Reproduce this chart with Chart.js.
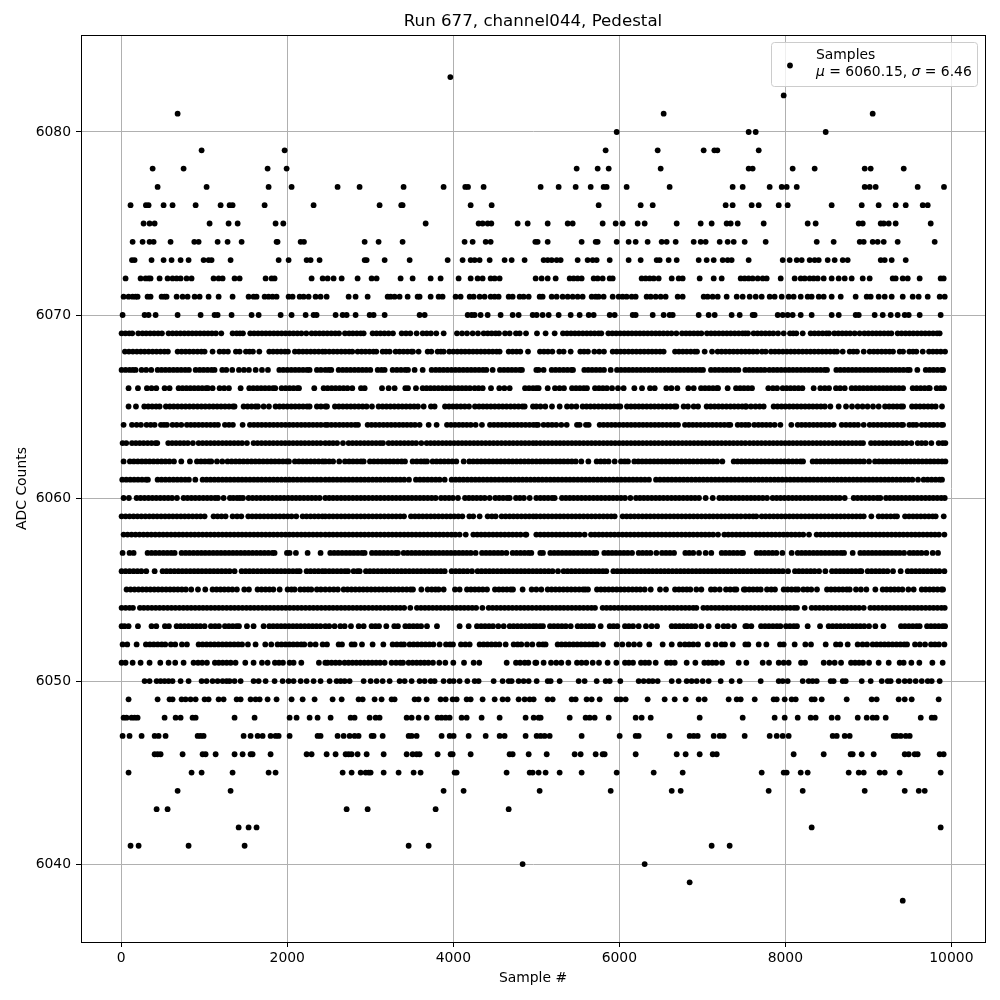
<!DOCTYPE html>
<html>
<head>
<meta charset="utf-8">
<title>Run 677, channel044, Pedestal</title>
<script src="https://cdn.jsdelivr.net/npm/chart.js@4"></script>
<style>
html, body { margin: 0; padding: 0; background: #fff; }
canvas { display: block; }
</style>
</head>
<body>
<canvas id="chart" width="1000" height="1000"></canvas>
<script>
const xTicks = [0, 2000, 4000, 6000, 8000, 10000];
const yTicks = [6040, 6050, 6060, 6070, 6080];

// sample numbers, one list per ADC level
const s6083 = [3964];
const s6082 = [7980];
const s6081 = [679, 6534, 9052];
const s6080 = [5968, 7558, 7643, 8486];
const s6079 = [968, 1968, 5835, 6462, 7016, 7145, 7181, 7679];
const s6078 = [378, 751, 1763, 1992, 5486, 5739, 5872, 6498, 7558, 7606, 8088, 8353, 8956, 9028, 9426];
const s6077 = [438, 1028, 1775, 2052, 2606, 2871, 3401, 3883, 4144, 4177, 4365, 5052, 5269, 5474, 5655, 5811, 5847, 6088, 6606, 7365, 7486, 7811, 7956, 8016, 8137, 8956, 9016, 9088, 9594, 9911];
const s6076 = [112, 297, 329, 510, 618, 896, 1197, 1305, 1341, 1727, 2317, 3112, 3373, 3389, 4209, 4462, 5751, 6257, 6402, 7281, 7365, 7594, 7679, 7920, 8028, 8558, 8920, 9124, 9329, 9450, 9655, 9715];
const s6075 = [269, 341, 402, 1064, 1293, 1402, 1859, 1952, 3667, 4305, 4353, 4414, 4458, 4775, 4896, 5137, 5378, 5438, 5799, 5956, 6040, 6221, 6305, 6691, 6980, 7112, 7293, 7341, 7426, 7739, 8269, 8365, 8884, 8932, 9149, 9185, 9245, 9329, 9751];
const s6074 = [137, 257, 341, 390, 594, 880, 932, 1161, 1281, 1450, 1871, 1883, 2161, 2201, 2932, 3100, 3389, 4136, 4233, 4390, 4450, 4988, 5016, 5137, 5546, 5715, 5739, 5968, 6112, 6197, 6341, 6510, 6570, 6679, 6896, 6980, 7040, 7209, 7305, 7378, 7510, 7763, 8378, 8582, 8896, 8944, 9052, 9112, 9185, 9353, 9799];
const s6073 = [129, 161, 365, 510, 606, 715, 811, 992, 1052, 1088, 1317, 1896, 2016, 2233, 2281, 2389, 2932, 2956, 3173, 3474, 3932, 4112, 4209, 4257, 4317, 4438, 4618, 4703, 4859, 5088, 5137, 5185, 5245, 5293, 5498, 5618, 5679, 5727, 5884, 6112, 6257, 6450, 6486, 6594, 6691, 6956, 7052, 7137, 7245, 7305, 7353, 7558, 7968, 8052, 8137, 8197, 8293, 8353, 8402, 8510, 8594, 8691, 8751, 9149, 9197, 9281, 9450];
const s6072 = [52, 233, 293, 329, 353, 462, 558, 618, 667, 715, 787, 847, 1112, 1173, 1221, 1365, 1426, 1739, 1811, 1847, 2293, 2426, 2486, 2558, 2655, 2847, 3016, 3076, 3365, 3510, 3727, 3847, 4064, 4209, 4293, 4353, 4450, 4498, 4558, 4992, 5064, 5137, 5233, 5402, 5450, 5498, 5546, 5691, 5739, 5799, 5884, 5920, 6269, 6317, 6366, 6414, 6474, 6631, 6715, 6763, 6968, 7137, 7233, 7462, 7510, 7558, 7606, 7667, 7727, 7775, 7944, 8112, 8185, 8233, 8293, 8341, 8390, 8462, 8558, 8642, 8715, 8799, 8932, 9016, 9293, 9329, 9414, 9474, 9618, 9871, 9907];
const s6071 = [28, 88, 137, 173, 197, 317, 353, 486, 522, 546, 667, 739, 799, 884, 944, 1052, 1173, 1341, 1534, 1594, 1630, 1727, 1775, 1823, 1871, 2016, 2064, 2149, 2197, 2257, 2341, 2401, 2474, 2739, 2823, 2968, 3209, 3245, 3293, 3353, 3450, 3570, 3594, 3727, 3823, 3871, 4028, 4088, 4197, 4245, 4317, 4377, 4450, 4498, 4546, 4667, 4715, 4799, 4847, 4908, 5040, 5076, 5185, 5245, 5317, 5378, 5438, 5498, 5558, 5667, 5715, 5751, 5811, 5920, 5992, 6040, 6088, 6149, 6197, 6329, 6378, 6438, 6498, 6558, 6703, 6763, 7016, 7064, 7124, 7185, 7293, 7414, 7486, 7570, 7643, 7715, 7811, 7871, 7956, 8040, 8100, 8185, 8269, 8317, 8402, 8462, 8558, 8667, 8847, 8980, 9028, 9124, 9197, 9281, 9414, 9534, 9606, 9715, 9859, 9920];
const s6070 = [16, 281, 329, 414, 679, 956, 1124, 1161, 1329, 1570, 1655, 1920, 2052, 2221, 2317, 2353, 2582, 2667, 2715, 2823, 2992, 3040, 3173, 3594, 3655, 4173, 4221, 4257, 4329, 4414, 4570, 4715, 4787, 4956, 5004, 5076, 5149, 5269, 5414, 5522, 5631, 5691, 5884, 5944, 6161, 6197, 6402, 6534, 6606, 6643, 6956, 7076, 7149, 7353, 7450, 7606, 7630, 7908, 7968, 8028, 8088, 8185, 8317, 8558, 8643, 8847, 8884, 9076, 9173, 9269, 9353, 9438, 9486, 9618, 9871];
const s6069 = [4, 50, 96, 132, 205, 255, 300, 348, 396, 444, 490, 570, 618, 665, 712, 760, 808, 855, 902, 950, 998, 1045, 1092, 1140, 1205, 1341, 1390, 1430, 1466, 1554, 1600, 1648, 1695, 1742, 1790, 1838, 1885, 1932, 1980, 2028, 2075, 2122, 2170, 2229, 2293, 2340, 2388, 2435, 2482, 2530, 2578, 2623, 2695, 2745, 2790, 2838, 2885, 2920, 3028, 3075, 3122, 3170, 3220, 3273, 3378, 3430, 3482, 3558, 3631, 3680, 3730, 3795, 3884, 4044, 4105, 4165, 4233, 4297, 4366, 4415, 4462, 4510, 4550, 4623, 4679, 4755, 4800, 4876, 5008, 5112, 5221, 5321, 5370, 5418, 5465, 5512, 5560, 5608, 5655, 5702, 5750, 5783, 5868, 5915, 5962, 6010, 6058, 6105, 6152, 6200, 6248, 6295, 6342, 6390, 6438, 6485, 6532, 6580, 6628, 6687, 6755, 6803, 6850, 6898, 6945, 6988, 7056, 7105, 7152, 7200, 7248, 7295, 7342, 7390, 7438, 7485, 7518, 7550, 7618, 7665, 7712, 7760, 7808, 7855, 7912, 7980, 8056, 8095, 8132, 8209, 8305, 8352, 8400, 8448, 8495, 8526, 8590, 8638, 8685, 8732, 8780, 8835, 8895, 8952, 9000, 9048, 9095, 9142, 9190, 9238, 9277, 9353, 9400, 9448, 9495, 9542, 9590, 9638, 9685, 9732, 9780, 9828, 9859];
const s6068 = [44, 92, 140, 188, 235, 282, 330, 378, 425, 472, 520, 562, 679, 727, 775, 822, 870, 918, 965, 1004, 1100, 1185, 1235, 1285, 1381, 1426, 1502, 1545, 1586, 1663, 1783, 1830, 1878, 1925, 1972, 2008, 2092, 2140, 2188, 2235, 2282, 2330, 2378, 2425, 2458, 2506, 2555, 2602, 2650, 2698, 2745, 2783, 2848, 2895, 2942, 2990, 3038, 3072, 3149, 3190, 3233, 3305, 3352, 3400, 3448, 3495, 3514, 3582, 3691, 3735, 3811, 3850, 3884, 3952, 4000, 4048, 4095, 4142, 4190, 4238, 4285, 4332, 4380, 4428, 4475, 4522, 4558, 4667, 4715, 4762, 4807, 4900, 5044, 5092, 5140, 5193, 5277, 5329, 5414, 5530, 5575, 5622, 5699, 5758, 5815, 5920, 5968, 6015, 6062, 6110, 6158, 6205, 6252, 6300, 6348, 6395, 6442, 6490, 6534, 6671, 6718, 6765, 6812, 6860, 6908, 6936, 7028, 7117, 7185, 7232, 7280, 7328, 7375, 7422, 7470, 7518, 7565, 7612, 7660, 7719, 7763, 7827, 7875, 7922, 7970, 8018, 8065, 8112, 8160, 8208, 8255, 8302, 8350, 8398, 8445, 8492, 8540, 8588, 8622, 8691, 8775, 8820, 8863, 8944, 9016, 9065, 9112, 9160, 9208, 9255, 9297, 9377, 9418, 9494, 9538, 9578, 9655, 9731, 9778, 9825, 9872, 9924];
const s6067 = [4, 52, 100, 140, 173, 245, 300, 361, 438, 485, 532, 580, 628, 675, 722, 770, 815, 896, 945, 992, 1040, 1088, 1124, 1217, 1265, 1337, 1418, 1478, 1538, 1619, 1695, 1767, 1904, 1952, 2000, 2048, 2095, 2142, 2190, 2238, 2269, 2357, 2405, 2458, 2500, 2530, 2619, 2668, 2715, 2762, 2810, 2858, 2905, 2952, 3000, 3089, 3135, 3173, 3269, 3320, 3370, 3420, 3454, 3534, 3631, 3739, 3788, 3835, 3882, 3930, 3978, 4025, 4072, 4120, 4168, 4215, 4262, 4310, 4358, 4398, 4474, 4562, 4610, 4658, 4705, 4752, 4800, 4827, 5000, 5028, 5088, 5185, 5232, 5280, 5328, 5375, 5422, 5442, 5578, 5625, 5672, 5720, 5768, 5815, 5896, 5972, 6020, 6068, 6115, 6162, 6210, 6258, 6305, 6352, 6400, 6448, 6495, 6542, 6590, 6638, 6685, 6732, 6780, 6828, 6875, 6922, 6970, 7008, 7104, 7152, 7200, 7248, 7295, 7342, 7390, 7434, 7518, 7565, 7612, 7660, 7705, 7751, 7807, 7855, 7902, 7950, 7998, 8045, 8092, 8140, 8188, 8235, 8282, 8330, 8378, 8425, 8472, 8502, 8614, 8662, 8710, 8758, 8805, 8852, 8900, 8948, 8995, 9042, 9090, 9138, 9185, 9232, 9280, 9328, 9375, 9422, 9470, 9498, 9590, 9691, 9738, 9785, 9832, 9880, 9900];
const s6066 = [88, 201, 309, 365, 422, 522, 582, 691, 738, 785, 832, 880, 928, 975, 1022, 1044, 1100, 1185, 1240, 1297, 1438, 1542, 1590, 1638, 1685, 1732, 1780, 1828, 1855, 1932, 1980, 2028, 2075, 2122, 2141, 2325, 2438, 2486, 2535, 2582, 2630, 2678, 2725, 2783, 2888, 2932, 3141, 3221, 3293, 3422, 3454, 3550, 3631, 3678, 3725, 3772, 3820, 3868, 3915, 3962, 4010, 4058, 4105, 4152, 4200, 4257, 4305, 4354, 4454, 4554, 4615, 4679, 4864, 4912, 4960, 5000, 5028, 5137, 5225, 5280, 5333, 5430, 5478, 5525, 5572, 5610, 5707, 5755, 5802, 5850, 5912, 5984, 6052, 6181, 6273, 6370, 6426, 6566, 6627, 6699, 6831, 6896, 6984, 7032, 7080, 7128, 7175, 7189, 7305, 7406, 7455, 7502, 7550, 7598, 7795, 7850, 7900, 7968, 8015, 8062, 8110, 8158, 8205, 8341, 8422, 8475, 8526, 8610, 8660, 8715, 8799, 8846, 8893, 8940, 8988, 9035, 9082, 9130, 9178, 9225, 9272, 9320, 9368, 9418, 9534, 9582, 9630, 9678, 9725, 9739, 9823, 9870, 9912];
const s6065 = [88, 177, 277, 325, 372, 420, 462, 538, 585, 632, 680, 728, 775, 822, 870, 918, 965, 1012, 1060, 1108, 1155, 1202, 1250, 1298, 1345, 1365, 1474, 1522, 1570, 1618, 1647, 1715, 1779, 1859, 1906, 1953, 2000, 2048, 2095, 2142, 2190, 2238, 2269, 2357, 2405, 2458, 2478, 2574, 2622, 2670, 2718, 2765, 2812, 2860, 2908, 2955, 3020, 3100, 3148, 3195, 3242, 3290, 3338, 3385, 3432, 3480, 3528, 3574, 3643, 3731, 3775, 3900, 3948, 3995, 4042, 4090, 4138, 4189, 4261, 4310, 4358, 4405, 4452, 4500, 4548, 4595, 4642, 4690, 4738, 4785, 4832, 4860, 4960, 5000, 5050, 5108, 5189, 5281, 5370, 5425, 5482, 5558, 5605, 5652, 5700, 5748, 5795, 5842, 5890, 5938, 5985, 6012, 6092, 6140, 6188, 6235, 6282, 6330, 6378, 6425, 6472, 6520, 6568, 6615, 6662, 6687, 6775, 6827, 6896, 6948, 7052, 7100, 7148, 7195, 7242, 7290, 7338, 7385, 7432, 7480, 7518, 7530, 7586, 7640, 7690, 7739, 7859, 7906, 7953, 8000, 8048, 8095, 8142, 8190, 8238, 8285, 8332, 8380, 8428, 8475, 8542, 8642, 8731, 8803, 8871, 8930, 8990, 9056, 9124, 9201, 9250, 9298, 9345, 9392, 9418, 9526, 9574, 9622, 9670, 9718, 9765, 9811, 9887];
const s6064 = [28, 129, 185, 237, 305, 355, 402, 478, 515, 550, 618, 668, 723, 791, 838, 885, 932, 980, 1028, 1075, 1122, 1165, 1249, 1298, 1345, 1462, 1550, 1598, 1645, 1692, 1740, 1788, 1835, 1882, 1930, 1978, 2025, 2072, 2120, 2168, 2215, 2262, 2310, 2358, 2405, 2458, 2486, 2532, 2580, 2628, 2675, 2722, 2770, 2818, 2852, 2968, 3015, 3062, 3110, 3158, 3205, 3252, 3300, 3348, 3395, 3442, 3490, 3538, 3594, 3703, 3799, 3924, 3972, 4020, 4068, 4115, 4162, 4210, 4269, 4345, 4442, 4490, 4538, 4585, 4632, 4680, 4728, 4775, 4822, 4870, 4918, 4965, 5000, 5020, 5088, 5140, 5190, 5240, 5301, 5366, 5490, 5522, 5598, 5631, 5763, 5810, 5858, 5905, 5952, 6000, 6048, 6095, 6142, 6190, 6238, 6285, 6332, 6380, 6428, 6475, 6522, 6570, 6618, 6665, 6707, 6791, 6838, 6885, 6932, 6980, 7028, 7075, 7122, 7170, 7218, 7265, 7312, 7337, 7426, 7472, 7518, 7558, 7626, 7675, 7722, 7770, 7818, 7871, 7940, 8072, 8149, 8196, 8243, 8290, 8338, 8385, 8432, 8480, 8528, 8582, 8679, 8730, 8780, 8828, 8875, 8944, 9016, 9064, 9112, 9160, 9208, 9255, 9302, 9350, 9398, 9418, 9494, 9538, 9578, 9643, 9690, 9738, 9785, 9832, 9880, 9900];
const s6063 = [16, 60, 129, 176, 223, 270, 318, 365, 412, 434, 566, 613, 660, 708, 755, 802, 863, 932, 980, 1028, 1075, 1122, 1170, 1218, 1265, 1312, 1360, 1408, 1455, 1514, 1594, 1642, 1690, 1738, 1785, 1832, 1880, 1928, 1975, 2022, 2070, 2118, 2165, 2212, 2260, 2308, 2355, 2402, 2458, 2505, 2552, 2600, 2671, 2739, 2786, 2833, 2880, 2928, 2975, 3022, 3070, 3118, 3153, 3221, 3268, 3315, 3362, 3410, 3458, 3505, 3552, 3615, 3679, 3726, 3773, 3820, 3868, 3915, 3962, 4010, 4058, 4105, 4152, 4200, 4248, 4295, 4342, 4390, 4438, 4485, 4532, 4580, 4628, 4675, 4722, 4770, 4818, 4865, 4912, 4960, 5000, 5048, 5095, 5142, 5190, 5238, 5285, 5332, 5380, 5428, 5475, 5522, 5570, 5618, 5665, 5712, 5760, 5808, 5855, 5902, 5950, 5998, 6045, 6092, 6140, 6188, 6235, 6282, 6330, 6378, 6425, 6472, 6520, 6568, 6615, 6662, 6710, 6758, 6805, 6852, 6900, 6948, 6995, 7042, 7090, 7138, 7185, 7232, 7280, 7328, 7375, 7422, 7470, 7518, 7570, 7618, 7665, 7712, 7760, 7808, 7855, 7902, 7950, 7998, 8045, 8092, 8140, 8188, 8235, 8282, 8330, 8378, 8425, 8472, 8520, 8568, 8615, 8662, 8710, 8758, 8805, 8852, 8900, 8936, 9032, 9080, 9128, 9175, 9222, 9270, 9318, 9365, 9412, 9460, 9518, 9594, 9642, 9690, 9759, 9847, 9895, 9928];
const s6062 = [28, 104, 152, 200, 248, 295, 342, 390, 438, 485, 532, 580, 635, 723, 827, 912, 960, 1008, 1055, 1084, 1153, 1217, 1281, 1330, 1378, 1425, 1472, 1520, 1568, 1615, 1662, 1710, 1758, 1805, 1852, 1900, 1948, 1995, 2020, 2092, 2140, 2188, 2235, 2282, 2330, 2378, 2425, 2458, 2505, 2552, 2626, 2695, 2745, 2792, 2840, 2888, 2920, 2996, 3044, 3092, 3140, 3188, 3235, 3282, 3330, 3378, 3418, 3510, 3560, 3610, 3650, 3683, 3751, 3798, 3845, 3892, 3940, 3988, 4036, 4125, 4193, 4240, 4288, 4335, 4382, 4430, 4478, 4525, 4572, 4620, 4668, 4715, 4762, 4810, 4858, 4905, 4952, 5000, 5048, 5095, 5142, 5190, 5238, 5285, 5332, 5380, 5428, 5475, 5542, 5627, 5727, 5775, 5822, 5870, 5944, 6020, 6065, 6104, 6181, 6228, 6275, 6322, 6370, 6418, 6465, 6512, 6560, 6608, 6655, 6702, 6750, 6798, 6845, 6892, 6940, 6988, 7035, 7082, 7130, 7178, 7241, 7378, 7425, 7472, 7518, 7565, 7612, 7660, 7708, 7755, 7802, 7850, 7898, 7945, 7992, 8040, 8088, 8135, 8182, 8213, 8329, 8376, 8423, 8470, 8518, 8565, 8612, 8660, 8708, 8755, 8802, 8850, 8898, 8945, 9008, 9080, 9128, 9175, 9222, 9270, 9318, 9365, 9412, 9460, 9508, 9555, 9602, 9650, 9698, 9745, 9792, 9840, 9888, 9928];
const s6061 = [12, 60, 108, 155, 202, 250, 298, 321, 438, 485, 532, 580, 628, 675, 722, 770, 815, 892, 980, 1028, 1075, 1122, 1170, 1218, 1265, 1312, 1360, 1408, 1455, 1502, 1550, 1598, 1645, 1692, 1740, 1788, 1835, 1882, 1930, 1978, 2025, 2072, 2120, 2168, 2215, 2262, 2310, 2358, 2405, 2458, 2505, 2552, 2600, 2648, 2695, 2742, 2790, 2838, 2885, 2932, 2980, 3028, 3075, 3122, 3170, 3218, 3265, 3312, 3360, 3408, 3466, 3550, 3598, 3645, 3692, 3740, 3788, 3835, 3896, 3980, 4028, 4075, 4122, 4170, 4218, 4265, 4312, 4360, 4408, 4455, 4502, 4550, 4598, 4645, 4692, 4740, 4788, 4835, 4882, 4930, 4978, 5025, 5072, 5120, 5168, 5215, 5262, 5310, 5358, 5405, 5452, 5500, 5548, 5595, 5642, 5690, 5738, 5785, 5832, 5880, 5928, 5975, 6022, 6070, 6118, 6165, 6212, 6260, 6308, 6357, 6442, 6490, 6538, 6585, 6632, 6680, 6728, 6775, 6822, 6870, 6918, 6965, 7012, 7060, 7108, 7155, 7202, 7250, 7298, 7345, 7392, 7440, 7488, 7535, 7582, 7630, 7678, 7725, 7772, 7820, 7868, 7915, 7962, 8010, 8058, 8105, 8152, 8200, 8248, 8295, 8342, 8390, 8438, 8485, 8532, 8580, 8628, 8675, 8722, 8770, 8818, 8865, 8912, 8960, 9008, 9055, 9102, 9150, 9198, 9245, 9292, 9340, 9388, 9435, 9482, 9530, 9598, 9666, 9714, 9762, 9810, 9858, 9887];
const s6060 = [28, 92, 185, 232, 280, 328, 375, 422, 470, 518, 565, 612, 671, 751, 798, 845, 892, 940, 988, 1035, 1082, 1130, 1165, 1233, 1309, 1350, 1395, 1430, 1466, 1534, 1582, 1630, 1678, 1725, 1772, 1820, 1868, 1915, 1962, 2010, 2058, 2105, 2152, 2200, 2248, 2295, 2342, 2390, 2458, 2505, 2552, 2600, 2648, 2695, 2742, 2790, 2838, 2885, 2932, 2980, 3028, 3075, 3122, 3170, 3218, 3265, 3312, 3360, 3408, 3455, 3502, 3550, 3598, 3645, 3692, 3740, 3787, 3852, 3900, 3948, 3995, 4056, 4141, 4188, 4235, 4282, 4330, 4378, 4438, 4506, 4553, 4600, 4648, 4679, 4755, 4802, 4850, 4920, 5000, 5048, 5095, 5142, 5190, 5221, 5309, 5356, 5403, 5450, 5498, 5545, 5592, 5640, 5688, 5735, 5782, 5830, 5878, 5925, 5972, 6020, 6068, 6133, 6201, 6248, 6295, 6342, 6390, 6438, 6485, 6532, 6580, 6628, 6675, 6722, 6770, 6818, 6865, 6912, 6960, 7040, 7125, 7205, 7252, 7300, 7348, 7395, 7442, 7490, 7538, 7585, 7632, 7680, 7728, 7779, 7847, 7895, 7942, 7990, 8038, 8085, 8132, 8180, 8228, 8275, 8322, 8370, 8418, 8465, 8512, 8560, 8608, 8655, 8715, 8823, 8870, 8918, 8965, 9012, 9060, 9108, 9144, 9213, 9260, 9308, 9355, 9402, 9450, 9498, 9545, 9592, 9640, 9688, 9735, 9782, 9830, 9878, 9920];
const s6059 = [4, 52, 100, 148, 195, 242, 290, 338, 385, 432, 480, 528, 575, 622, 670, 718, 765, 812, 860, 908, 955, 1004, 1112, 1160, 1208, 1257, 1341, 1395, 1446, 1530, 1578, 1625, 1672, 1720, 1768, 1815, 1862, 1910, 1958, 2005, 2052, 2108, 2185, 2232, 2280, 2328, 2375, 2422, 2458, 2505, 2552, 2600, 2648, 2695, 2742, 2790, 2838, 2885, 2932, 2980, 3028, 3075, 3122, 3170, 3218, 3265, 3312, 3360, 3406, 3490, 3538, 3585, 3632, 3680, 3728, 3775, 3822, 3870, 3918, 3965, 4012, 4060, 4109, 4193, 4240, 4317, 4414, 4465, 4510, 4582, 4630, 4678, 4725, 4772, 4820, 4868, 4915, 4962, 5000, 5048, 5095, 5142, 5190, 5238, 5285, 5332, 5380, 5428, 5475, 5522, 5570, 5618, 5665, 5712, 5760, 5808, 5855, 5902, 5944, 6040, 6088, 6135, 6182, 6230, 6278, 6325, 6372, 6420, 6468, 6515, 6562, 6610, 6658, 6705, 6752, 6800, 6848, 6895, 6942, 6990, 7038, 7085, 7132, 7180, 7228, 7275, 7322, 7370, 7418, 7465, 7518, 7565, 7612, 7650, 7715, 7762, 7810, 7858, 7905, 7952, 8000, 8048, 8095, 8142, 8190, 8238, 8285, 8332, 8380, 8428, 8475, 8522, 8570, 8618, 8665, 8712, 8760, 8808, 8855, 8902, 8944, 9036, 9124, 9172, 9220, 9268, 9315, 9345, 9442, 9490, 9538, 9585, 9632, 9680, 9728, 9775, 9811, 9908];
const s6058 = [28, 76, 124, 172, 220, 268, 315, 362, 410, 458, 505, 552, 600, 648, 695, 742, 790, 838, 885, 932, 980, 1028, 1075, 1122, 1170, 1218, 1265, 1312, 1360, 1408, 1455, 1502, 1550, 1598, 1645, 1692, 1740, 1788, 1835, 1882, 1930, 1978, 2025, 2072, 2120, 2168, 2215, 2262, 2310, 2358, 2405, 2458, 2505, 2552, 2600, 2648, 2695, 2742, 2790, 2838, 2885, 2932, 2980, 3028, 3075, 3122, 3170, 3218, 3265, 3312, 3360, 3408, 3455, 3502, 3550, 3598, 3645, 3692, 3740, 3788, 3835, 3882, 3930, 3978, 4025, 4076, 4150, 4241, 4288, 4335, 4382, 4430, 4478, 4525, 4572, 4620, 4668, 4715, 4762, 4810, 4868, 4880, 5000, 5048, 5095, 5142, 5190, 5238, 5285, 5332, 5380, 5428, 5475, 5522, 5582, 5659, 5706, 5753, 5800, 5848, 5895, 5942, 5990, 6038, 6085, 6132, 6180, 6228, 6275, 6322, 6370, 6418, 6465, 6512, 6560, 6608, 6655, 6702, 6750, 6798, 6845, 6892, 6940, 6988, 7035, 7082, 7130, 7189, 7265, 7312, 7360, 7408, 7455, 7502, 7550, 7598, 7645, 7692, 7740, 7788, 7835, 7882, 7930, 7978, 8025, 8072, 8120, 8168, 8215, 8285, 8377, 8425, 8472, 8520, 8568, 8615, 8662, 8710, 8758, 8805, 8852, 8900, 8948, 8995, 9042, 9090, 9138, 9185, 9232, 9280, 9328, 9375, 9422, 9470, 9518, 9565, 9612, 9660, 9708, 9755, 9802, 9850, 9916];
const s6057 = [16, 100, 149, 317, 365, 412, 460, 508, 555, 602, 643, 727, 775, 822, 870, 918, 965, 1012, 1060, 1108, 1155, 1202, 1250, 1298, 1345, 1392, 1440, 1488, 1535, 1582, 1630, 1678, 1725, 1772, 1820, 1847, 1996, 2028, 2104, 2245, 2401, 2518, 2565, 2612, 2660, 2708, 2755, 2802, 2850, 2898, 2932, 3020, 3068, 3115, 3162, 3210, 3258, 3305, 3333, 3402, 3450, 3498, 3545, 3592, 3640, 3688, 3735, 3782, 3830, 3878, 3925, 3972, 4020, 4068, 4115, 4162, 4210, 4269, 4346, 4394, 4442, 4490, 4538, 4585, 4639, 4715, 4762, 4810, 4858, 4905, 4940, 5048, 5080, 5169, 5216, 5263, 5310, 5358, 5405, 5452, 5500, 5548, 5595, 5642, 5690, 5723, 5819, 5866, 5913, 5960, 6008, 6055, 6102, 6153, 6233, 6280, 6328, 6375, 6446, 6514, 6562, 6610, 6659, 6795, 6842, 6890, 6960, 7040, 7108, 7233, 7280, 7328, 7375, 7422, 7470, 7490, 7655, 7702, 7750, 7798, 7845, 7892, 7964, 8076, 8149, 8196, 8243, 8290, 8338, 8385, 8432, 8480, 8528, 8575, 8622, 8670, 8707, 8811, 8903, 8950, 8998, 9045, 9092, 9140, 9188, 9235, 9282, 9330, 9378, 9430, 9498, 9545, 9592, 9640, 9699, 9775, 9839];
const s6056 = [4, 52, 100, 148, 195, 242, 301, 402, 498, 545, 592, 640, 688, 735, 782, 830, 878, 925, 972, 1020, 1068, 1115, 1162, 1210, 1258, 1305, 1365, 1450, 1498, 1545, 1592, 1640, 1688, 1735, 1782, 1830, 1878, 1925, 1972, 2020, 2068, 2115, 2149, 2233, 2280, 2328, 2375, 2422, 2458, 2505, 2552, 2600, 2648, 2695, 2731, 2799, 2845, 2872, 2948, 2995, 3042, 3090, 3138, 3185, 3232, 3280, 3328, 3375, 3422, 3470, 3518, 3565, 3612, 3660, 3708, 3755, 3802, 3850, 3896, 3980, 4028, 4075, 4122, 4170, 4225, 4293, 4340, 4388, 4435, 4482, 4530, 4578, 4625, 4672, 4720, 4768, 4815, 4862, 4910, 4958, 5005, 5052, 5100, 5148, 5195, 5261, 5329, 5376, 5423, 5470, 5518, 5565, 5612, 5660, 5708, 5755, 5802, 5843, 5928, 5975, 6022, 6070, 6118, 6165, 6212, 6260, 6308, 6355, 6402, 6450, 6498, 6545, 6592, 6640, 6688, 6735, 6782, 6830, 6878, 6925, 6972, 7020, 7068, 7115, 7162, 7210, 7258, 7305, 7352, 7400, 7448, 7495, 7542, 7590, 7638, 7685, 7732, 7780, 7828, 7875, 7922, 7970, 8032, 8116, 8163, 8210, 8258, 8305, 8352, 8406, 8482, 8562, 8610, 8658, 8705, 8752, 8800, 8848, 8895, 8916, 8992, 9040, 9088, 9135, 9182, 9230, 9297, 9389, 9474, 9522, 9570, 9618, 9665, 9712, 9760, 9808, 9855, 9916];
const s6055 = [64, 112, 160, 208, 255, 302, 350, 398, 445, 492, 540, 588, 635, 682, 730, 778, 843, 924, 1012, 1100, 1148, 1195, 1242, 1290, 1338, 1393, 1482, 1538, 1642, 1690, 1738, 1785, 1832, 1908, 2004, 2050, 2088, 2157, 2205, 2250, 2289, 2357, 2405, 2458, 2510, 2560, 2609, 2679, 2726, 2773, 2820, 2868, 2915, 2962, 3010, 3058, 3105, 3152, 3200, 3248, 3295, 3342, 3390, 3438, 3485, 3514, 3615, 3691, 3740, 3785, 3823, 3884, 4020, 4076, 4165, 4212, 4260, 4308, 4355, 4406, 4502, 4550, 4598, 4645, 4692, 4719, 4835, 4944, 5000, 5060, 5137, 5184, 5231, 5278, 5326, 5373, 5420, 5468, 5516, 5563, 5590, 5622, 5731, 5778, 5825, 5872, 5920, 5968, 6015, 6062, 6110, 6158, 6205, 6252, 6305, 6378, 6490, 6562, 6671, 6718, 6765, 6812, 6855, 6928, 6988, 7104, 7150, 7209, 7285, 7335, 7385, 7410, 7500, 7518, 7565, 7612, 7660, 7703, 7779, 7830, 7875, 7980, 8028, 8075, 8122, 8153, 8217, 8265, 8312, 8381, 8502, 8550, 8598, 8645, 8692, 8740, 8775, 8851, 8910, 8976, 9084, 9173, 9220, 9268, 9315, 9362, 9410, 9482, 9546, 9643, 9690, 9738, 9785, 9832, 9880, 9900];
const s6054 = [4, 52, 100, 141, 225, 272, 320, 368, 415, 462, 510, 558, 605, 652, 700, 748, 795, 842, 890, 938, 985, 1032, 1080, 1128, 1175, 1222, 1270, 1318, 1365, 1412, 1460, 1508, 1555, 1602, 1650, 1698, 1745, 1792, 1840, 1888, 1935, 1982, 2030, 2078, 2125, 2172, 2220, 2268, 2315, 2362, 2410, 2458, 2505, 2552, 2600, 2648, 2695, 2742, 2790, 2838, 2885, 2932, 2980, 3028, 3075, 3122, 3170, 3218, 3265, 3312, 3360, 3408, 3482, 3562, 3610, 3658, 3705, 3752, 3800, 3848, 3895, 3942, 3990, 4038, 4085, 4132, 4180, 4228, 4275, 4350, 4426, 4474, 4522, 4570, 4618, 4665, 4712, 4760, 4808, 4855, 4902, 4950, 5000, 5048, 5095, 5142, 5190, 5238, 5285, 5332, 5380, 5428, 5475, 5522, 5570, 5618, 5665, 5707, 5799, 5846, 5893, 5940, 5988, 6035, 6082, 6130, 6178, 6225, 6272, 6320, 6368, 6415, 6462, 6510, 6558, 6605, 6652, 6700, 6748, 6795, 6842, 6890, 6928, 7012, 7060, 7108, 7155, 7202, 7250, 7298, 7345, 7392, 7440, 7488, 7535, 7582, 7630, 7678, 7725, 7772, 7820, 7868, 7915, 7962, 8010, 8058, 8105, 8140, 8233, 8317, 8365, 8412, 8460, 8508, 8555, 8602, 8650, 8698, 8745, 8792, 8840, 8888, 8944, 9024, 9072, 9120, 9168, 9215, 9262, 9310, 9358, 9405, 9452, 9500, 9548, 9595, 9642, 9690, 9738, 9785, 9832, 9880, 9920];
const s6053 = [4, 40, 88, 201, 365, 422, 526, 574, 667, 715, 762, 810, 858, 905, 952, 1004, 1080, 1130, 1177, 1249, 1296, 1343, 1390, 1418, 1514, 1594, 1715, 1783, 1830, 1878, 1925, 1972, 2020, 2068, 2115, 2162, 2210, 2258, 2305, 2352, 2400, 2458, 2505, 2570, 2639, 2691, 2767, 2860, 2920, 3016, 3062, 3105, 3193, 3289, 3333, 3422, 3470, 3518, 3565, 3612, 3683, 3803, 4076, 4185, 4285, 4335, 4382, 4430, 4478, 4542, 4607, 4679, 4726, 4773, 4820, 4868, 4915, 4962, 5000, 5045, 5080, 5165, 5212, 5260, 5308, 5355, 5414, 5498, 5545, 5592, 5640, 5683, 5775, 5884, 5930, 5976, 6068, 6115, 6165, 6233, 6321, 6390, 6454, 6631, 6678, 6725, 6772, 6820, 6868, 6915, 6988, 7076, 7185, 7257, 7309, 7382, 7518, 7538, 7590, 7707, 7755, 7802, 7850, 7898, 7940, 8008, 8055, 8102, 8140, 8269, 8418, 8522, 8570, 8618, 8665, 8712, 8760, 8808, 8855, 8902, 8950, 9008, 9084, 9181, 9393, 9440, 9488, 9535, 9582, 9618, 9707, 9754, 9801, 9848, 9895, 9924];
const s6052 = [16, 72, 185, 297, 345, 392, 440, 488, 530, 598, 650, 731, 791, 932, 980, 1028, 1075, 1122, 1170, 1218, 1265, 1312, 1360, 1408, 1455, 1526, 1618, 1735, 1807, 1883, 1930, 1978, 2025, 2072, 2120, 2168, 2205, 2277, 2341, 2426, 2478, 2619, 2659, 2775, 2811, 2900, 3028, 3157, 3269, 3320, 3370, 3406, 3474, 3522, 3570, 3618, 3665, 3712, 3760, 3835, 3912, 3960, 3996, 4092, 4145, 4197, 4317, 4365, 4412, 4460, 4508, 4555, 4631, 4727, 4775, 4819, 4888, 4952, 5032, 5080, 5112, 5257, 5304, 5351, 5398, 5446, 5493, 5540, 5588, 5636, 5683, 5730, 5803, 5968, 6036, 6112, 6177, 6245, 6361, 6522, 6631, 6731, 6790, 6840, 6890, 6948, 7064, 7160, 7233, 7273, 7366, 7518, 7554, 7679, 7771, 7936, 7980, 8112, 8241, 8309, 8486, 8610, 8662, 8751, 8871, 8930, 8984, 9052, 9100, 9148, 9195, 9242, 9290, 9338, 9385, 9432, 9466, 9562, 9620, 9683, 9755, 9802, 9850, 9916];
const s6051 = [4, 52, 137, 233, 341, 470, 570, 650, 751, 871, 925, 975, 1032, 1128, 1175, 1222, 1270, 1318, 1377, 1494, 1594, 1695, 1763, 1851, 1900, 1948, 2028, 2076, 2169, 2381, 2458, 2486, 2534, 2582, 2630, 2690, 2738, 2785, 2832, 2880, 2928, 2975, 3022, 3070, 3118, 3173, 3257, 3310, 3360, 3394, 3462, 3510, 3558, 3605, 3652, 3700, 3755, 3831, 3904, 4000, 4129, 4245, 4313, 4643, 4755, 4805, 4860, 4904, 5000, 4988, 5088, 5177, 5240, 5301, 5386, 5490, 5545, 5602, 5679, 5755, 5859, 5964, 6068, 6115, 6165, 6261, 6310, 6357, 6438, 6574, 6620, 6667, 6811, 6916, 7024, 7072, 7120, 7168, 7237, 7438, 7530, 7727, 7803, 7920, 7980, 8040, 8189, 8237, 8462, 8530, 8594, 8671, 8791, 8840, 8888, 8935, 9008, 9124, 9245, 9377, 9425, 9518, 9614, 9771, 9895];
const s6050 = [281, 341, 426, 474, 522, 570, 618, 715, 811, 968, 1028, 1100, 1161, 1221, 1269, 1305, 1365, 1438, 1594, 1655, 1739, 1847, 1944, 2016, 2076, 2161, 2233, 2317, 2401, 2510, 2594, 2643, 2691, 2751, 2920, 3004, 3076, 3149, 3233, 3353, 3414, 3498, 3594, 3655, 3727, 3775, 3883, 3956, 4004, 4076, 4169, 4257, 4305, 4486, 4594, 4667, 4703, 4787, 4847, 4908, 5004, 5137, 5173, 5281, 5510, 5582, 5727, 5835, 5884, 6012, 6233, 6293, 6354, 6402, 6462, 6631, 6715, 6811, 6871, 6932, 7004, 7076, 7221, 7353, 7450, 7703, 7920, 7968, 8028, 8209, 8281, 8329, 8378, 8546, 8582, 8691, 8727, 8920, 9028, 9161, 9233, 9269, 9365, 9438, 9498, 9570, 9643, 9715, 9763, 9859];
const s6049 = [88, 438, 582, 618, 727, 775, 835, 896, 1004, 1052, 1173, 1233, 1390, 1438, 1558, 1618, 1667, 1763, 1871, 2052, 2185, 2329, 2546, 2655, 2859, 2908, 3052, 3136, 3257, 3293, 3534, 3582, 3679, 3847, 3908, 3992, 4040, 4161, 4209, 4353, 4498, 4594, 4655, 4787, 4859, 4920, 4968, 5137, 5197, 5426, 5474, 5606, 5667, 5763, 5968, 6016, 6076, 6341, 6546, 6667, 6799, 6956, 7028, 7317, 7414, 7462, 7631, 7859, 7896, 7992, 8076, 8125, 8317, 8353, 8438, 8739, 9040, 9100, 9365, 9438, 9522, 9847];
const s6048 = [28, 64, 124, 161, 197, 522, 655, 715, 859, 896, 1365, 1606, 2028, 2112, 2269, 2365, 2522, 2763, 2811, 2992, 3064, 3112, 3438, 3498, 3582, 3679, 3811, 3859, 3908, 3956, 4100, 4161, 4341, 4558, 4871, 4968, 5028, 5052, 5402, 5594, 5643, 5703, 5872, 6197, 6269, 6378, 6968, 7486, 7871, 7992, 8149, 8305, 8365, 8558, 8631, 8872, 8980, 9052, 9100, 9209, 9631, 9763, 9799];
const s6047 = [16, 100, 245, 402, 450, 534, 920, 956, 992, 1474, 1558, 1643, 1703, 1799, 1859, 1896, 2028, 2365, 2401, 2606, 2679, 2751, 2811, 2859, 3016, 3040, 3149, 3462, 3498, 3558, 3859, 3956, 4004, 4185, 4390, 4558, 4618, 4871, 5004, 5052, 5100, 5161, 5546, 6004, 6197, 6233, 6606, 6847, 6896, 6944, 7137, 7209, 7257, 7510, 7811, 7896, 7968, 8040, 8570, 8619, 8715, 8775, 9305, 9341, 9390, 9450, 9498];
const s6046 = [402, 438, 474, 739, 980, 1016, 1137, 1365, 1462, 1558, 1582, 1799, 2233, 2293, 2474, 2582, 2703, 2739, 2775, 2847, 2956, 3161, 3438, 3510, 3558, 3594, 3811, 3968, 3992, 4209, 4678, 4715, 4908, 5125, 5462, 5534, 5715, 5799, 5823, 6197, 6691, 6799, 6968, 7125, 7173, 8100, 8462, 8787, 8811, 8920, 9064, 9438, 9486, 9558, 9594, 9859, 9907];
const s6045 = [88, 847, 968, 1341, 1775, 1859, 2667, 2775, 2884, 2944, 2980, 3004, 3161, 3341, 3522, 3606, 4016, 4040, 4642, 4920, 4956, 5028, 5112, 5281, 5546, 5968, 6414, 6763, 7715, 7980, 8016, 8185, 8269, 8763, 8884, 8944, 9136, 9197, 9377, 9871];
const s6044 = [679, 1317, 3883, 4124, 5040, 5896, 6631, 6739, 7799, 8209, 8956, 9438, 9607, 9679];
const s6043 = [426, 558, 2715, 2968, 3787, 4667];
const s6042 = [1414, 1534, 1630, 8317, 9871];
const s6041 = [112, 209, 811, 1486, 3462, 3703, 7112, 7329];
const s6040 = [4835, 6305];
const s6039 = [6847];
const s6038 = [9414];

const levels = [6083, 6082, 6081, 6080, 6079, 6078, 6077, 6076, 6075, 6074, 6073, 6072, 6071, 6070, 6069, 6068, 6067, 6066, 6065, 6064, 6063, 6062, 6061, 6060, 6059, 6058, 6057, 6056, 6055, 6054, 6053, 6052, 6051, 6050, 6049, 6048, 6047, 6046, 6045, 6044, 6043, 6042, 6041, 6040, 6039, 6038];
const samples = [s6083, s6082, s6081, s6080, s6079, s6078, s6077, s6076, s6075, s6074, s6073, s6072, s6071, s6070, s6069, s6068, s6067, s6066, s6065, s6064, s6063, s6062, s6061, s6060, s6059, s6058, s6057, s6056, s6055, s6054, s6053, s6052, s6051, s6050, s6049, s6048, s6047, s6046, s6045, s6044, s6043, s6042, s6041, s6040, s6039, s6038];

const points = [];
levels.forEach((level, i) => {
    samples[i].forEach(x => points.push({ x: x, y: level }));
});

const axisFont = { family: "'DejaVu Sans'", size: 13.9 };

// draws the box round the axes and the legend, the library legend can't do mixed italics
const framePlugin = {
    id: 'frame',
    afterDraw(chart) {
        const ctx = chart.ctx;
        const a = chart.chartArea;
        ctx.save();
        ctx.strokeStyle = '#000';
        ctx.lineWidth = 1;
        ctx.strokeRect(Math.round(a.left) + 0.5, Math.round(a.top) + 0.5, Math.round(a.right - a.left), Math.round(a.bottom - a.top));

        ctx.beginPath();
        ctx.roundRect(771.5, 42.5, 206, 44, 3);
        ctx.fillStyle = 'rgba(255,255,255,0.8)';
        ctx.fill();
        ctx.strokeStyle = '#ccc';
        ctx.stroke();

        ctx.fillStyle = '#000';
        ctx.beginPath();
        ctx.arc(790, 65.5, 2.9, 0, Math.PI * 2);
        ctx.fill();

        ctx.textBaseline = 'alphabetic';
        ctx.textAlign = 'left';
        const plain = "13.9px 'DejaVu Sans'";
        const italic = "italic 13.9px 'DejaVu Sans'";
        ctx.font = plain;
        ctx.fillText('Samples', 816, 59);
        let x = 816;
        [['\u03bc', italic], [' = 6060.15, ', plain], ['\u03c3', italic], [' = 6.46', plain]].forEach(part => {
            ctx.font = part[1];
            ctx.fillText(part[0], x, 76);
            x += ctx.measureText(part[0]).width;
        });
        ctx.restore();
    }
};

new Chart(document.getElementById('chart'), {
    type: 'scatter',
    data: {
        datasets: [{
            label: 'Samples',
            data: points,
            backgroundColor: '#000',
            borderWidth: 0,
            pointRadius: 2.9,
            pointHoverRadius: 2.9
        }]
    },
    options: {
        responsive: false,
        animation: false,
        layout: { padding: { right: 15, bottom: 0 } },
        plugins: {
            legend: { display: false },
            tooltip: { enabled: false },
            title: {
                display: true,
                fullSize: false,
                text: 'Run 677, channel044, Pedestal',
                color: '#000',
                font: { family: "'DejaVu Sans'", size: 16.67, weight: 'normal' },
                padding: { top: 12, bottom: 3 }
            }
        },
        scales: {
            x: {
                type: 'linear',
                min: -485,
                max: 10405,
                afterBuildTicks(scale) { scale.ticks = xTicks.map(v => ({ value: v })); },
                afterFit(scale) { scale.height = 58; },
                ticks: { color: '#000', font: axisFont, maxRotation: 0, padding: 3, callback: v => String(v) },
                grid: { color: '#b0b0b0', lineWidth: 1, tickColor: '#000', tickLength: 5 },
                border: { color: '#000' },
                title: { display: true, text: 'Sample #', color: '#000', font: axisFont, padding: { top: 4, bottom: 13 } }
            },
            y: {
                type: 'linear',
                min: 6035.74,
                max: 6085.3,
                afterBuildTicks(scale) { scale.ticks = yTicks.map(v => ({ value: v })); },
                afterFit(scale) { scale.width = 81; },
                ticks: { color: '#000', font: axisFont, padding: 5, callback: v => String(v) },
                grid: { color: '#b0b0b0', lineWidth: 1, tickColor: '#000', tickLength: 5 },
                border: { color: '#000' },
                title: { display: true, text: 'ADC Counts', color: '#000', font: axisFont, padding: { top: 14, bottom: 4 } }
            }
        }
    },
    plugins: [framePlugin]
});
</script>
</body>
</html>
